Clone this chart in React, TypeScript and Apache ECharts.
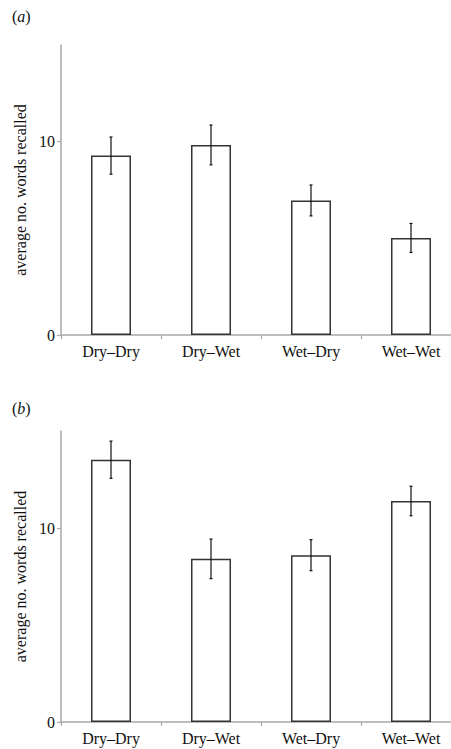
import React, { useEffect, useRef } from "react";
import * as echarts from "echarts";

const categories = ["Dry\u2013Dry", "Dry\u2013Wet", "Wet\u2013Dry", "Wet\u2013Wet"];
const meanA = [9.28, 9.83, 6.96, 5.02];
const errA = [0.96, 1.03, 0.8, 0.75];
const meanB = [13.52, 8.41, 8.6, 11.39];
const errB = [0.96, 1.02, 0.8, 0.76];
const yTicks = [0, 10];
const yLabel = "average no. words recalled";
const panelLabels = ["a", "b"];

const FONT = "Liberation Serif, Times New Roman, serif";
const AXIS_GRAY = "#a8a8a8";

function errRender(params: any, api: any) {
  const i = api.value(0);
  const m = api.value(1);
  const e = api.value(2);
  const top = api.coord([i, m + e]);
  const bot = api.coord([i, m - e]);
  const cap = 1.5;
  const style = { stroke: "#111", lineWidth: 1.2 };
  return {
    type: "group",
    children: [
      { type: "line", shape: { x1: top[0], y1: top[1], x2: bot[0], y2: bot[1] }, style },
      { type: "line", shape: { x1: top[0] - cap, y1: top[1], x2: top[0] + cap, y2: top[1] }, style },
      { type: "line", shape: { x1: bot[0] - cap, y1: bot[1], x2: bot[0] + cap, y2: bot[1] }, style },
    ],
  };
}

export default function App() {
  const ref = useRef<HTMLDivElement>(null);
  useEffect(() => {
    if (!ref.current) return;
    const chart = echarts.init(ref.current, undefined, { renderer: "svg" });
    const grids = [
      { left: 61, width: 400, top: 45, height: 290, outerBoundsMode: "none", containLabel: false },
      { left: 61, width: 400, top: 431, height: 291, outerBoundsMode: "none", containLabel: false },
    ];
    const xAxis = grids.map((_, gi) => ({
      type: "category",
      gridIndex: gi,
      data: categories,
      axisLine: { show: true, lineStyle: { color: AXIS_GRAY, width: 1.5 } },
      axisTick: { show: true, length: 4, lineStyle: { color: AXIS_GRAY, width: 1.2 } },
      axisLabel: { fontFamily: FONT, fontSize: 16, color: "#111", margin: 8 },
    }));
    const yAxis = grids.map((_, gi) => ({
      type: "value",
      gridIndex: gi,
      min: 0,
      max: 15,
      interval: 10,
      name: yLabel,
      nameLocation: "middle",
      nameGap: 27,
      nameTextStyle: { fontFamily: FONT, fontSize: 16, color: "#111" },
      axisLine: { show: true, lineStyle: { color: AXIS_GRAY, width: 1.5 } },
      axisTick: { show: true, length: 4, customValues: yTicks, lineStyle: { color: AXIS_GRAY, width: 1.2 } },
      axisLabel: { customValues: yTicks, fontFamily: FONT, fontSize: 16, color: "#111", margin: 6 },
      splitLine: { show: false },
    }));
    const panels = [
      { mean: meanA, err: errA },
      { mean: meanB, err: errB },
    ];
    const series: any[] = [];
    panels.forEach((p, gi) => {
      series.push({
        type: "bar",
        xAxisIndex: gi,
        yAxisIndex: gi,
        data: p.mean,
        barWidth: 40,
        itemStyle: { color: "#fff", borderColor: "#333", borderWidth: 1.5 },
      });
      series.push({
        type: "custom",
        xAxisIndex: gi,
        yAxisIndex: gi,
        renderItem: errRender,
        encode: { x: 0, y: 1 },
        data: p.mean.map((m, i) => [i, m, p.err[i]]),
        z: 5,
      });
    });
    const richStyle = {
      p: { fontFamily: FONT, fontSize: 16, fill: "#111", color: "#111" },
      i: { fontFamily: FONT, fontSize: 16, fontStyle: "italic", fill: "#111", color: "#111" },
    };
    chart.setOption({
      animation: false,
      backgroundColor: "#fff",
      grid: grids,
      xAxis,
      yAxis,
      series,
      graphic: [
        {
          type: "text",
          left: 12,
          top: 8,
          style: { rich: richStyle, text: `{p|(}{i|${panelLabels[0]}}{p|)}` },
        },
        {
          type: "text",
          left: 12,
          top: 400,
          style: { rich: richStyle, text: `{p|(}{i|${panelLabels[1]}}{p|)}` },
        },
      ],
    });
    return () => chart.dispose();
  }, []);
  return (
    <div
      ref={ref}
      style={{ position: "absolute", left: 0, top: 0, width: 451, height: 749 }}
    />
  );
}
